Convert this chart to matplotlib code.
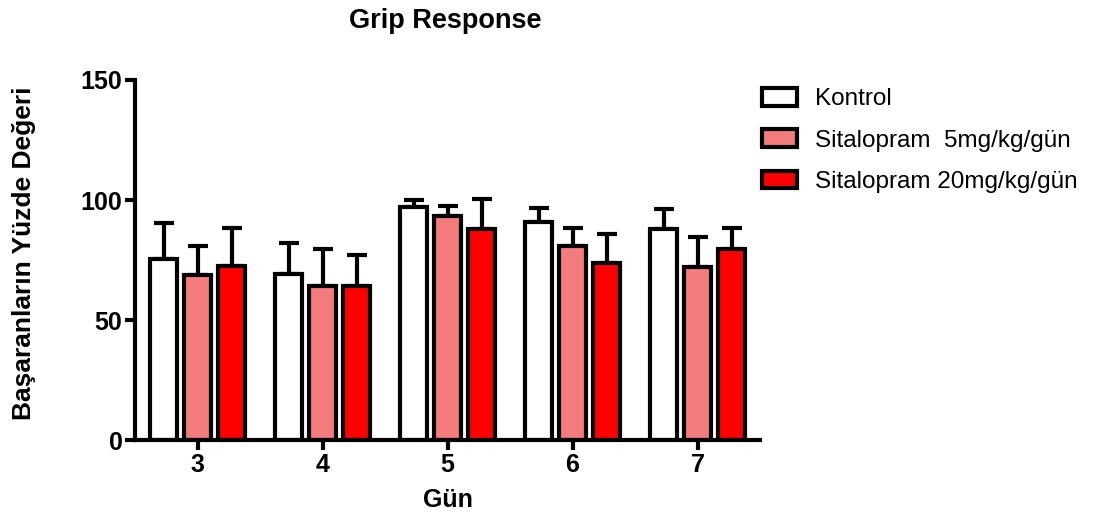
import matplotlib
matplotlib.use("Agg")
import matplotlib.pyplot as plt
import numpy as np
from matplotlib.patches import Patch

plt.rcParams['font.family'] = ['Liberation Sans', 'DejaVu Sans']

days = ['3', '4', '5', '6', '7']
series_names = ['Kontrol', 'Sitalopram  5mg/kg/gün', 'Sitalopram 20mg/kg/gün']
kontrol = [75.4, 69.0, 97.2, 91.0, 87.8]
kontrol_err = [15.0, 13.0, 2.8, 5.5, 8.4]
sit5 = [68.8, 64.0, 93.3, 81.0, 72.0]
sit5_err = [12.2, 15.5, 4.2, 7.5, 12.7]
sit20 = [72.5, 64.0, 87.8, 73.6, 79.5]
sit20_err = [16.0, 13.0, 12.5, 12.1, 8.7]
colors = ['#ffffff', '#f47c7c', '#ff0000']

W, H = 1114, 522
fig = plt.figure(figsize=(W / 100, H / 100), dpi=100)
ax = fig.add_axes([135 / W, 1 - 440 / H, (760 - 135) / W, (440 - 80) / H])

x = np.arange(3, 8)
width = 0.216
offset = 0.272
vals = [kontrol, sit5, sit20]
errs = [kontrol_err, sit5_err, sit20_err]
for i, (v, e, c, n) in enumerate(zip(vals, errs, colors, series_names)):
    pos = x + (i - 1) * offset
    ax.errorbar(pos, v, yerr=[np.zeros(len(e)), e], fmt='none', ecolor='black',
                elinewidth=3, capsize=7, capthick=3, zorder=1)
    ax.bar(pos, v, width=width, color=c, edgecolor='black', linewidth=3, zorder=2, label=n)

ax.set_xlim(2.5, 7.5)
ax.set_ylim(0, 150)
ax.set_yticks([0, 50, 100, 150])
ax.set_xticks(x)
ax.set_xticklabels(days)
for s in ['top', 'right']:
    ax.spines[s].set_visible(False)
for s in ['left', 'bottom']:
    ax.spines[s].set_linewidth(3)
ax.tick_params(axis='both', width=3, length=7, labelsize=18, pad=2)
for lab in ax.get_xticklabels() + ax.get_yticklabels():
    lab.set_fontweight('bold')

ax.set_xlabel('Gün', fontsize=18, fontweight='bold', labelpad=8)
fig.text(24 / W, 1 - 253 / H, 'Başaranların Yüzde Değeri', rotation=90, ha='center', va='center',
         fontsize=19, fontweight='bold')
fig.text(445 / W, 1 - 21 / H, 'Grip Response', ha='center', va='center', fontsize=19.5, fontweight='bold')

handles = [Patch(facecolor=c, edgecolor='black', linewidth=3) for c in colors]
leg = fig.legend(handles, series_names, loc='upper left', bbox_to_anchor=(762 / W, 1 - 88 / H),
                 frameon=False, fontsize=17.5, handlelength=1.45, handleheight=0.75,
                 labelspacing=0.78, handletextpad=0.75, borderpad=0, borderaxespad=0)

fig.savefig('out.png', dpi=100)
